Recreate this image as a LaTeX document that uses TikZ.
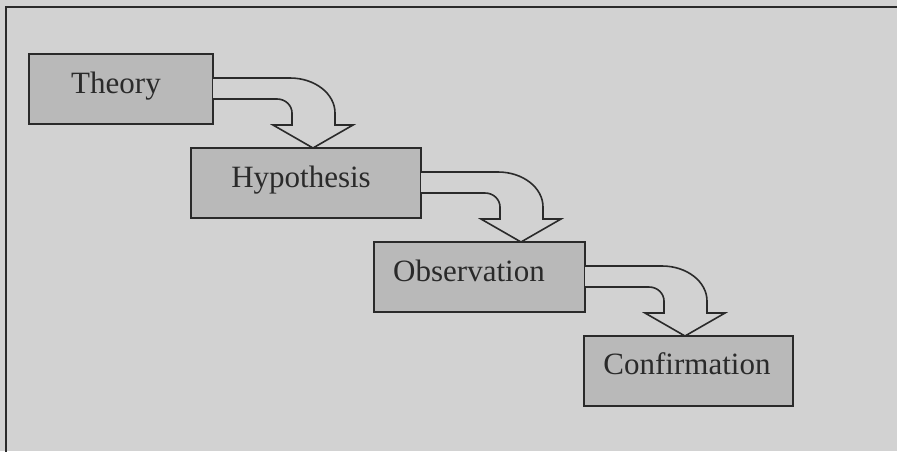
\documentclass[tikz,border=0pt]{standalone}
\usepackage{fontspec}
\setmainfont{Liberation Serif}
\definecolor{bgc}{HTML}{D2D2D2}
\definecolor{boxc}{HTML}{B9B9B9}
\definecolor{inkc}{HTML}{2A2A2A}
\tikzset{
  stagebox/.style={draw=inkc, line width=1.6pt, fill=boxc, rectangle, anchor=north west, outer sep=0pt, inner sep=0pt},
  stagelabel/.style={anchor=base, inner sep=0pt, text=inkc, font=\fontsize{31}{36}\selectfont},
  bentarrowstyle/.style={draw=inkc, line width=1.6pt, fill=bgc, line join=miter},
  bentarrow/.pic={
    \path[bentarrowstyle] (0,24) -- (77,24)
      .. controls (101.9,24) and (122,39.7) .. (122,59)
      -- (122,71) -- (140,71) -- (100,94) -- (60,71) -- (79,71) -- (79,59)
      .. controls (79,51.3) and (72.3,45) .. (64,45) -- (0,45);
  }
}
\begin{document}
\begin{tikzpicture}[x=1pt,y=-1pt]
\useasboundingbox (0,0) rectangle (897,451);
\fill[bgc] (0,0) rectangle (897,451);
\draw[inkc, line width=2pt] (6,460) -- (6,6.5) -- (905,6.5);
% boxes
\node[stagebox, minimum width=184pt, minimum height=70pt] (theory) at (29,54) {};
\node[stagebox, minimum width=230pt, minimum height=70pt] (hypo) at (191,148) {};
\node[stagebox, minimum width=211pt, minimum height=70pt] (obs) at (374,242) {};
\node[stagebox, minimum width=209pt, minimum height=70pt] (conf) at (584,336) {};
% labels
\node[stagelabel] (theoryT) at (116,93) {Theory};
\node[stagelabel] (hypoT) at (301,187) {Hypothesis};
\node[stagelabel] (obsT) at (469,281) {Observation};
\node[stagelabel] (confT) at (687,374) {Confirmation};
% arrows
\pic at (theory.north east) {bentarrow};
\pic at (hypo.north east) {bentarrow};
\pic at (obs.north east) {bentarrow};
\end{tikzpicture}
\end{document}
